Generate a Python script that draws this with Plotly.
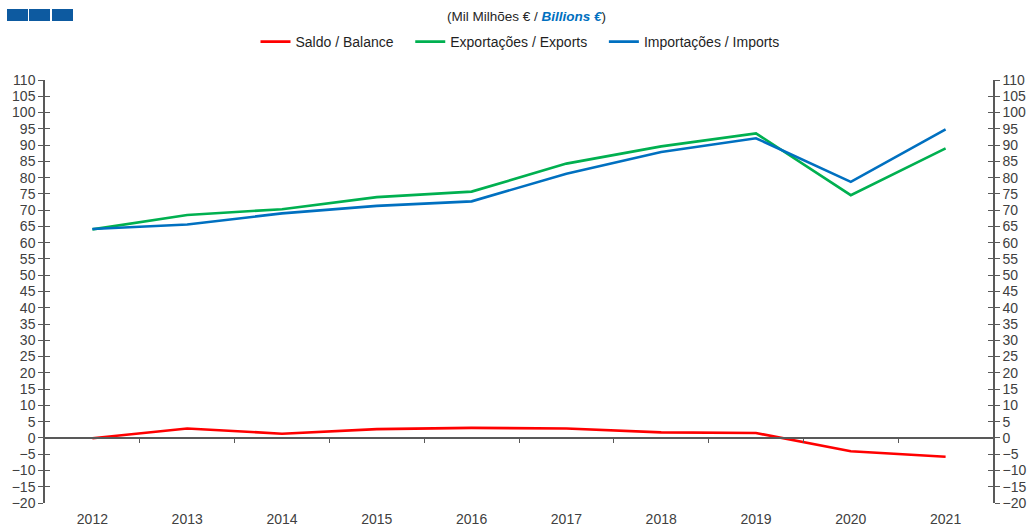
import plotly.graph_objects as go

years = ["2012", "2013", "2014", "2015", "2016", "2017", "2018", "2019", "2020", "2021"]
balance = [-0.1, 2.9, 1.3, 2.7, 3.1, 2.9, 1.7, 1.5, -4.1, -5.8]
exports = [64.1, 68.5, 70.3, 74.0, 75.7, 84.3, 89.6, 93.6, 74.6, 89.0]
imports = [64.2, 65.6, 69.0, 71.3, 72.7, 81.2, 87.9, 92.1, 78.7, 94.8]
y_ticks = list(range(-20, 111, 5))
names = ["Saldo / Balance", "Exportações / Exports", "Importações / Imports"]
colors = ["#ff0000", "#00b050", "#0070c0"]

Y_MIN, Y_MAX = -20, 110
W, H = 1033, 526
ML, MR, MT, MB = 45, 40, 80, 23
PW, PH = W - ML - MR, H - MT - MB

def px_x(p):
    return (p - ML) / PW

def px_y(p):
    return (H - MB - p) / PH

PAD = "\u00a0\u00a0\u00a0"

fig = go.Figure()
for i, (vals, nm, col) in enumerate(zip([balance, exports, imports], names, colors)):
    label = nm + (PAD if i < len(names) - 1 else "")
    fig.add_trace(go.Scatter(x=years, y=vals, name=label, mode="lines",
                             line=dict(color=col, width=2.6)))

FAM = "Liberation Sans, Arial, sans-serif"
font = dict(family=FAM, size=14, color="#404040")
axcol = "#595959"
yax_common = dict(range=[Y_MIN, Y_MAX], tickvals=y_ticks, showgrid=False, zeroline=False,
                  ticklen=5, tickcolor=axcol, tickwidth=1.2, tickfont=font, fixedrange=True,
                  automargin=False)

fig.update_layout(
    width=W, height=H, margin=dict(l=ML, r=MR, t=MT, b=MB, autoexpand=False),
    paper_bgcolor="white", plot_bgcolor="white",
    showlegend=True,
    legend=dict(orientation="h", x=px_x(520), xanchor="center", y=px_y(42), yanchor="middle",
                font=dict(family=FAM, size=14, color="#1f1f1f"),
                itemwidth=30, traceorder="normal"),
    xaxis=dict(type="category", range=[-0.5, 9.5], showgrid=False, zeroline=False,
               showline=False, ticks="outside", ticklen=3, tickcolor="rgba(0,0,0,0)",
               tickfont=font, automargin=False),
    xaxis2=dict(overlaying="x", anchor="free", position=(0 - Y_MIN) / (Y_MAX - Y_MIN),
                range=[-0.5, 9.5], tickvals=[i + 0.5 for i in range(len(years) - 1)],
                showticklabels=False, ticks="outside", ticklen=4, tickcolor=axcol, tickwidth=1.2,
                showline=True, linecolor=axcol, linewidth=1.5, showgrid=False, zeroline=False,
                automargin=False),
    yaxis=dict(side="left", showline=True, linecolor=axcol, linewidth=1.5, ticks="outside",
               **yax_common),
    yaxis3=dict(side="left", overlaying="y", anchor="x", showline=False, ticks="inside",
                showticklabels=False, **yax_common),
    yaxis2=dict(side="right", overlaying="y", anchor="x", showline=True, linecolor=axcol,
                linewidth=1.5, ticks="outside", **yax_common),
    yaxis4=dict(side="right", overlaying="y", anchor="x", showline=False, ticks="inside",
                showticklabels=False, **yax_common),
)

# invisible helper traces so overlay axes render
fig.add_trace(go.Scatter(x=[0, 9], y=[Y_MIN, Y_MIN], xaxis="x2", yaxis="y2", mode="lines",
                         line=dict(width=0), showlegend=False, hoverinfo="skip"))
fig.add_trace(go.Scatter(x=years[:1], y=[Y_MIN], yaxis="y3", mode="lines",
                         line=dict(width=0), showlegend=False, hoverinfo="skip"))
fig.add_trace(go.Scatter(x=years[:1], y=[Y_MIN], yaxis="y4", mode="lines",
                         line=dict(width=0), showlegend=False, hoverinfo="skip"))

fig.add_annotation(
    text="(Mil Milhões € / <b><i><span style='color:#0070c0'>Billions €</span></i></b>)",
    xref="paper", yref="paper", x=px_x(526), y=px_y(17), xanchor="center", yanchor="middle",
    showarrow=False, font=dict(family=FAM, size=13.5, color="#262626"))

for x0, x1 in [(7, 28), (29, 50), (52, 73)]:
    fig.add_shape(type="rect", xref="paper", yref="paper", x0=px_x(x0), x1=px_x(x1),
                  y0=px_y(21), y1=px_y(9), fillcolor="#0d5aa0", line=dict(width=0))

fig.write_html("out.html", config={"displayModeBar": False},
               post_script="document.body.style.margin='0';document.body.style.padding='0';")
